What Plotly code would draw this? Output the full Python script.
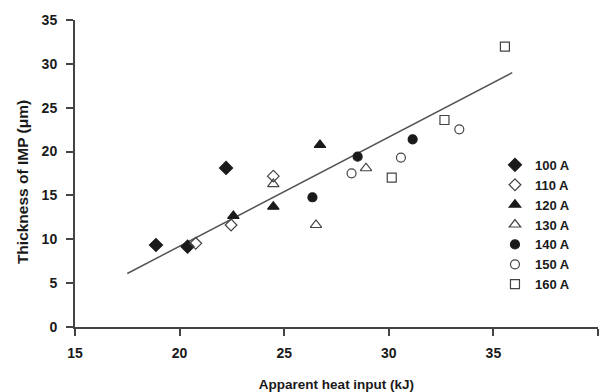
import plotly.graph_objects as go

# Data
x_100 = [18.87, 20.38, 22.22]
y_100 = [9.35, 9.16, 18.13]
x_110 = [20.77, 22.46, 24.48]
y_110 = [9.54, 11.63, 17.2]
x_120 = [22.57, 24.48, 26.71]
y_120 = [12.66, 13.72, 20.75]
x_130 = [24.48, 26.52, 28.91]
y_130 = [16.3, 11.63, 18.1]
x_140 = [26.35, 28.51, 31.14]
y_140 = [14.79, 19.42, 21.4]
x_150 = [28.22, 30.58, 33.37]
y_150 = [17.52, 19.31, 22.54]
x_160 = [30.14, 32.66, 35.55]
y_160 = [17.03, 23.6, 31.96]
trend_x = [17.5, 35.9]
trend_y = [6.1, 29.0]

x_ticks = [15, 20, 25, 30, 35, 40]
y_ticks = [0, 5, 10, 15, 20, 25, 30, 35]

x_title = "Apparent heat input (kJ)"
y_title = "Thickness of IMP (μm)"

FONT = "Liberation Sans"
DARK = "#1a1a1a"
EDGE = "#444444"

series = [
    ("100 A", x_100, y_100, "diamond", DARK, DARK, 10),
    ("110 A", x_110, y_110, "diamond-open", EDGE, EDGE, 9),
    ("120 A", x_120, y_120, "triangle-up", DARK, DARK, 10),
    ("130 A", x_130, y_130, "triangle-up-open", EDGE, EDGE, 10),
    ("140 A", x_140, y_140, "circle", DARK, DARK, 9),
    ("150 A", x_150, y_150, "circle-open", EDGE, EDGE, 9),
    ("160 A", x_160, y_160, "square-open", EDGE, EDGE, 9),
]

fig = go.Figure()

fig.add_trace(go.Scatter(
    x=trend_x, y=trend_y, mode="lines",
    line=dict(color="#555555", width=1.5),
    showlegend=False, hoverinfo="skip",
))

for name, xs, ys, sym, col, lcol, size in series:
    fig.add_trace(go.Scatter(
        x=xs, y=ys, mode="markers", name=name,
        marker=dict(symbol=sym, size=size, color=col,
                    line=dict(color=lcol, width=1.2)),
    ))

axis_common = dict(
    showgrid=False, zeroline=False, automargin=False,
    showline=True, linecolor=EDGE, linewidth=2,
    ticks="outside", ticklen=7, tickwidth=1.5, tickcolor=EDGE,
    tickfont=dict(family=FONT, size=14, color="#1a1a1a", weight="bold"),
)

fig.update_xaxes(
    range=[15, 40], tickvals=x_ticks, ticklabelstandoff=5,
    title=dict(text=x_title, standoff=21,
               font=dict(family=FONT, size=13.5, color="#1a1a1a", weight="bold")),
    **axis_common,
)
fig.update_yaxes(
    range=[0, 35], tickvals=y_ticks, ticklabelstandoff=6,
    **axis_common,
)

fig.add_annotation(
    text=y_title, textangle=-90, showarrow=False,
    xref="paper", yref="paper", x=-0.1013, y=0.472,
    xanchor="center", yanchor="middle",
    font=dict(family=FONT, size=15.5, color="#1a1a1a", weight="bold"),
)

fig.update_layout(
    width=605, height=392,
    margin=dict(l=75, r=7, t=20, b=65),
    paper_bgcolor="white", plot_bgcolor="white",
    legend=dict(
        x=0.803, y=0.577, xanchor="left", yanchor="top",
        font=dict(family=FONT, size=13, color="#1a1a1a", weight="bold"),
        bgcolor="rgba(0,0,0,0)", itemwidth=30,
    ),
)

fig.write_html(
    "out.html",
    config={"displayModeBar": False},
    post_script="document.body.style.margin='0';document.body.style.overflow='hidden';",
)
